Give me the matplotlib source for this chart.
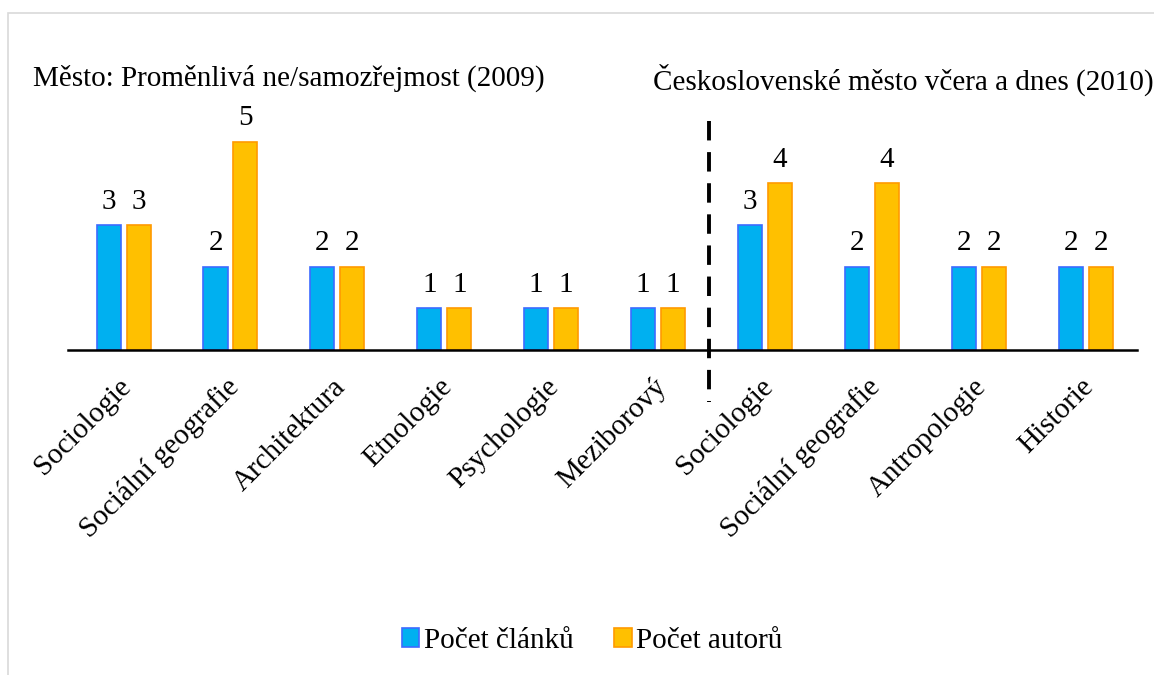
import numpy as np
import matplotlib.pyplot as plt
from matplotlib.patches import Rectangle

categories = ['Sociologie', 'Sociální geografie', 'Architektura', 'Etnologie',
              'Psychologie', 'Meziborový', 'Sociologie', 'Sociální geografie',
              'Antropologie', 'Historie']
clanky = [3, 2, 2, 1, 1, 1, 3, 2, 2, 2]
autori = [3, 5, 2, 1, 1, 1, 4, 4, 2, 2]
group_titles = ['Město: Proměnlivá ne/samozřejmost (2009)',
                'Československé město včera a dnes (2010)']

plt.rcParams['font.family'] = ['Liberation Serif', 'DejaVu Serif']
fs = 21

fig = plt.figure(figsize=(11.54, 6.75), dpi=100)
ax = fig.add_axes([68/1154, 325/675, 1069/1154, 229/675])

x = np.arange(len(categories))
w = 0.225
off = 0.14
b1 = ax.bar(x - off + 0.02, clanky, w, color='#00B0F0', edgecolor='#3D6BFF', linewidth=1.2,
            label='Počet článků')
b2 = ax.bar(x + off + 0.02, autori, w, color='#FFC000', edgecolor='#FF9A00', linewidth=1.2,
            label='Počet autorů')

for bars in (b1, b2):
    for r in bars:
        ax.text(r.get_x() + r.get_width()/2, r.get_height() + 0.25, str(int(r.get_height())),
                ha='center', va='bottom', fontsize=fs)

ax.set_xlim(-0.5, len(categories) - 0.5)
ax.set_ylim(0, 5.5)
for s in ['top', 'right', 'left']:
    ax.spines[s].set_visible(False)
ax.spines['bottom'].set_linewidth(1.8)
ax.set_yticks([])
ax.set_xticks(x - 0.03)
ax.set_xticklabels(categories, rotation=45, ha='right', rotation_mode='anchor', fontsize=fs)
ax.tick_params(axis='x', length=0, pad=17)

# oddělovač mezi dvěma publikacemi
ax.plot([5.5, 5.5], [5.5, -1.25], color='black', lw=2.8, ls=(0, (5, 3)), clip_on=False)

fig.text(33/1154, 1 - 78/675, group_titles[0], fontsize=fs, va='center', ha='left')
fig.text(653/1154, 1 - 80/675, group_titles[1], fontsize=fs, va='center', ha='left')

fig.legend(loc='center', bbox_to_anchor=(592/1154, 1 - 641/675), ncol=2, frameon=False,
           fontsize=fs, handlelength=0.6, handleheight=0.6, handletextpad=0.15,
           columnspacing=1.4)

fig.add_artist(Rectangle((8/1154, -0.1), 1.2, 1 - 13/675 + 0.1, transform=fig.transFigure,
                         fill=False, edgecolor='#d9d9d9', lw=1.2))

fig.savefig('out.png', dpi=100)
